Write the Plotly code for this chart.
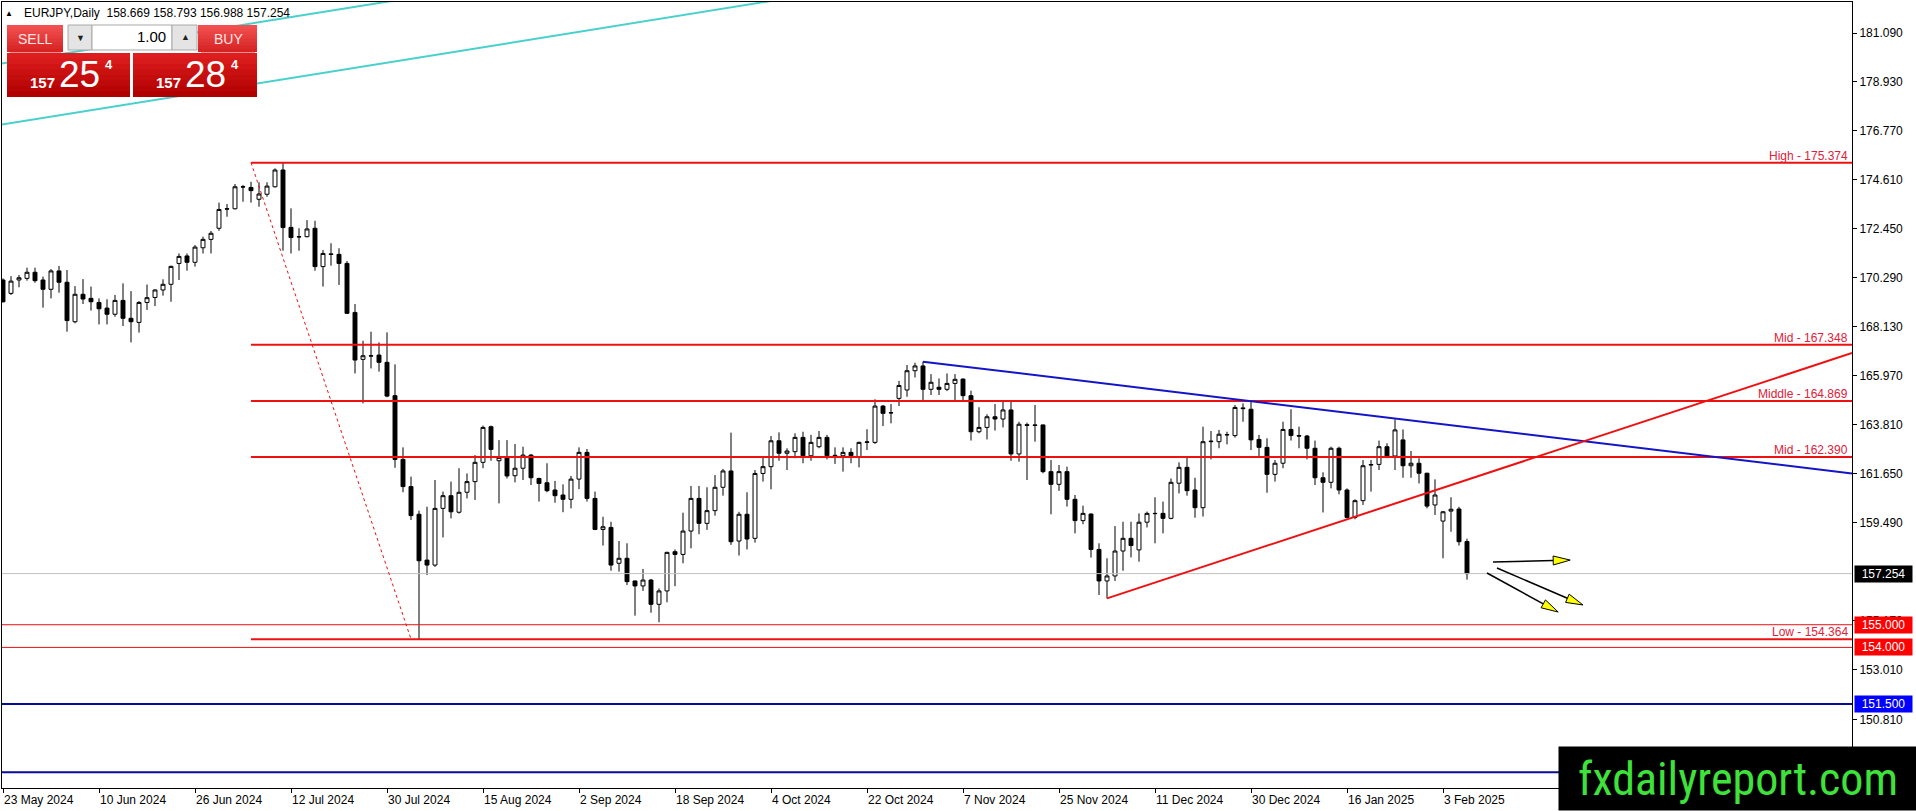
import math
import plotly.graph_objects as go

# ---- data (daily EURJPY, bar index 0 = 23 May 2024) ----
symbol = "EURJPY,Daily"
tick_dates = ["23 May 2024", "10 Jun 2024", "26 Jun 2024", "12 Jul 2024", "30 Jul 2024",
              "15 Aug 2024", "2 Sep 2024", "18 Sep 2024", "4 Oct 2024", "22 Oct 2024",
              "7 Nov 2024", "25 Nov 2024", "11 Dec 2024", "30 Dec 2024", "16 Jan 2025",
              "3 Feb 2025"]
tick_step = 12

opens = [170.20, 169.61, 170.20, 170.27, 170.54, 170.20, 169.79, 170.60, 170.10, 168.36,
         169.57, 169.39, 169.21, 168.96, 168.69, 169.30, 168.51, 168.33, 169.21, 169.43,
         169.76, 170.01, 170.93, 171.26, 170.98, 171.62, 171.99, 172.48, 173.34, 173.34,
         174.31, 174.28, 173.76, 173.98, 174.31, 175.05, 172.52, 172.11, 172.11, 172.48,
         170.79, 171.35, 171.33, 170.93, 168.77, 166.70, 166.86, 166.89, 166.57, 165.10,
         162.29, 161.09, 159.87, 157.85, 157.63, 160.13, 160.69, 159.96, 160.84, 161.31,
         162.16, 163.73, 162.23, 162.38, 161.57, 161.90, 162.48, 161.45, 161.26, 160.94,
         160.72, 160.53, 161.42, 162.60, 160.57, 159.20, 159.29, 157.71, 157.93, 156.93,
         156.71, 156.97, 155.90, 156.49, 158.22, 158.10, 159.13, 160.57, 159.47, 160.03,
         161.06, 161.78, 158.69, 159.87, 158.81, 161.67, 161.97, 163.11, 162.56, 162.63,
         163.26, 162.45, 162.85, 163.26, 162.47, 162.45, 162.60, 162.41, 163.04, 163.04,
         164.64, 164.35, 164.98, 165.35, 166.20, 166.41, 165.38, 165.47, 165.38, 165.64,
         165.83, 165.10, 163.51, 163.70, 164.17, 164.07, 164.47, 162.53, 163.82, 163.81,
         163.81, 161.75, 161.19, 161.75, 160.53, 159.59, 159.88, 158.32, 156.93, 157.15,
         158.25, 158.81, 158.30, 159.52, 159.91, 159.91, 159.69, 161.24, 161.94, 160.94,
         160.16, 163.07, 163.07, 163.37, 163.34, 164.56, 164.50, 163.17, 162.82, 161.63,
         162.12, 163.61, 163.34, 163.32, 162.78, 161.48, 161.28, 162.78, 160.94, 159.73,
         160.47, 162.04, 162.07, 162.85, 162.44, 163.15, 162.01, 162.12, 161.68, 160.28,
         159.57, 160.01, 160.10, 158.669]
highs = [170.27, 170.37, 170.42, 170.74, 170.74, 170.35, 170.68, 170.82, 170.64, 169.93,
         170.24, 169.91, 169.39, 169.35, 169.54, 170.05, 169.71, 169.27, 170.00, 169.79,
         170.23, 170.83, 171.37, 171.37, 171.74, 172.11, 172.36, 173.61, 173.55, 174.43,
         174.39, 174.53, 174.51, 174.51, 175.12, 175.374, 173.36, 172.48, 172.84, 172.81,
         171.52, 171.82, 171.60, 171.04, 169.14, 167.52, 167.92, 167.45, 167.89, 166.48,
         162.82, 161.53, 160.03, 160.20, 161.38, 160.87, 161.31, 161.90, 161.67, 162.48,
         163.78, 163.78, 163.14, 163.14, 162.97, 162.85, 162.53, 161.48, 162.12, 161.34,
         161.19, 161.56, 162.82, 162.75, 160.87, 159.76, 159.54, 158.69, 158.59, 156.94,
         157.46, 157.02, 156.60, 158.22, 158.32, 159.94, 161.12, 161.12, 161.06, 161.60,
         161.87, 163.47, 159.98, 160.84, 161.82, 162.37, 163.32, 163.48, 162.78, 163.44,
         163.51, 163.37, 163.54, 163.37, 162.82, 162.82, 162.78, 163.07, 163.62, 164.94,
         164.69, 164.73, 165.75, 166.45, 166.55, 166.60, 166.05, 165.86, 166.08, 166.05,
         165.86, 165.32, 164.59, 164.28, 164.73, 164.91, 164.91, 163.95, 163.91, 164.69,
         163.82, 162.26, 162.04, 161.97, 160.72, 160.25, 159.91, 158.59, 157.93, 159.35,
         159.54, 159.54, 159.91, 159.99, 160.62, 160.43, 161.45, 162.16, 162.38, 161.48,
         163.73, 163.54, 163.59, 163.51, 164.69, 164.76, 164.83, 163.37, 163.22, 162.26,
         163.95, 164.50, 163.73, 163.37, 163.12, 161.72, 162.85, 162.85, 161.01, 160.53,
         162.26, 162.26, 163.12, 163.00, 164.06, 163.61, 162.66, 162.34, 161.70, 161.41,
         160.01, 160.62, 160.20, 158.793]
lows = [169.20, 169.54, 169.88, 170.17, 170.08, 168.98, 169.39, 169.64, 167.92, 168.29,
        169.14, 168.85, 168.24, 168.24, 168.58, 168.17, 167.45, 167.88, 168.88, 169.05,
        169.51, 169.24, 170.20, 170.61, 170.79, 171.37, 171.37, 172.37, 172.99, 173.31,
        173.65, 173.61, 173.43, 173.87, 174.28, 171.49, 171.37, 171.49, 172.08, 170.61,
        169.91, 170.83, 169.98, 168.70, 166.08, 164.76, 166.30, 166.16, 165.03, 161.92,
        160.84, 159.62, 154.364, 157.19, 157.55, 158.85, 159.69, 159.90, 160.57, 160.50,
        161.90, 162.23, 160.35, 161.45, 161.28, 161.38, 161.16, 160.43, 160.84, 160.38,
        159.96, 160.13, 160.98, 160.43, 159.17, 158.49, 157.38, 157.34, 156.75, 155.40,
        156.49, 155.53, 155.11, 155.99, 156.70, 157.71, 158.37, 158.99, 159.18, 159.81,
        160.69, 158.52, 158.05, 158.32, 158.62, 161.31, 160.97, 162.23, 161.82, 162.34,
        162.12, 162.23, 162.78, 162.29, 162.09, 161.75, 162.12, 161.94, 162.70, 162.97,
        163.76, 163.88, 164.64, 165.05, 165.90, 164.91, 165.13, 165.13, 165.30, 164.91,
        164.91, 163.12, 163.44, 163.17, 163.56, 163.70, 162.23, 162.19, 161.38, 163.07,
        161.68, 159.87, 160.90, 160.21, 159.03, 159.43, 157.96, 156.31, 156.16, 156.93,
        157.38, 157.97, 157.78, 159.29, 158.59, 159.03, 159.65, 160.79, 160.69, 159.72,
        159.77, 162.29, 162.78, 162.95, 163.25, 163.95, 162.70, 162.44, 160.82, 161.31,
        161.90, 163.12, 162.78, 162.29, 161.16, 159.95, 161.01, 160.75, 159.69, 159.65,
        160.28, 160.87, 161.82, 162.34, 161.82, 161.48, 161.48, 161.23, 160.13, 159.84,
        157.93, 159.10, 158.49, 156.988]
closes = [169.24, 170.15, 170.30, 170.54, 170.17, 169.79, 170.60, 170.10, 168.41, 169.57,
          169.36, 169.24, 168.93, 168.69, 169.30, 168.51, 168.36, 169.21, 169.42, 169.76,
          170.01, 170.80, 171.24, 170.98, 171.65, 171.99, 172.26, 173.31, 173.33, 174.31,
          174.30, 174.14, 173.99, 174.34, 175.05, 172.51, 172.07, 172.10, 172.45, 170.79,
          171.37, 171.33, 170.93, 168.73, 166.67, 166.86, 166.85, 166.57, 165.08, 162.29,
          161.09, 159.81, 157.82, 157.63, 160.13, 160.69, 159.98, 160.84, 161.31, 162.16,
          163.70, 162.73, 162.38, 161.56, 161.90, 162.48, 161.48, 161.23, 160.91, 160.69,
          160.53, 161.42, 162.60, 160.57, 159.20, 159.32, 157.63, 157.93, 156.90, 156.71,
          156.97, 155.90, 156.49, 158.19, 158.10, 159.13, 160.57, 159.47, 160.03, 161.06,
          161.78, 158.66, 159.87, 158.78, 161.67, 161.97, 163.11, 162.56, 162.66, 163.26,
          162.45, 163.04, 163.26, 162.45, 162.45, 162.60, 162.45, 163.04, 163.06, 164.64,
          164.32, 164.34, 165.55, 166.20, 166.41, 165.38, 165.69, 165.38, 165.64, 165.82,
          165.10, 163.51, 163.70, 164.17, 164.07, 164.47, 162.53, 163.84, 163.79, 163.79,
          161.75, 161.19, 161.75, 160.53, 159.59, 159.91, 158.32, 156.93, 157.15, 158.25,
          158.81, 158.49, 159.52, 159.91, 159.90, 159.69, 161.28, 161.94, 160.91, 160.16,
          163.07, 163.09, 163.40, 163.38, 164.58, 164.53, 163.15, 162.82, 161.63, 162.12,
          163.61, 163.34, 163.32, 162.78, 161.48, 161.28, 162.78, 160.94, 159.73, 160.47,
          162.01, 162.06, 162.85, 162.44, 163.59, 162.01, 162.12, 161.68, 160.23, 160.72,
          159.98, 160.09, 158.66, 157.254]

price_ticks = [181.09, 178.93, 176.77, 174.61, 172.45, 170.29, 168.13, 165.97, 163.81,
               161.65, 159.49, 155.17, 153.01, 150.81]

fib_names = ["High", "Mid", "Middle", "Mid", "Low"]
fib_prices = [175.374, 167.348, 164.869, 162.390, 154.364]
fib_from = 31
fib_diag = [(31, 175.374), (51, 154.364)]

red_levels = [155.000, 154.000]
blue_levels = [151.500, 148.500]
blue_labelled = [151.500]
bid = 157.254
ask = 157.284
lot = "1.00"

blue_trend = [(115, 166.60), (231.125, 161.67)]
red_trend = [(138, 156.16), (231.125, 166.98)]
cyan_lower = [(-0.5, 177.03), (100, 182.73)]
cyan_upper = [(-0.5, 179.72), (60, 183.15)]

arrows = [((186.25, 157.77), (195.9, 157.85)),
          ((186.75, 157.50), (197.5, 155.87)),
          ((185.5, 157.28), (194.4, 155.56))]

# ---- geometry of the window ----
W, H = 1916, 811
PL, PR, PT, PB = 2, 1852, 2, 788
X_RANGE = [-0.125, 231.125]
Y_RANGE = [147.801, 182.457]
XS = (PR - PL) / (X_RANGE[1] - X_RANGE[0])
YS = (PB - PT) / (Y_RANGE[1] - Y_RANGE[0])


def px(x):
    return (x - PL) / (PR - PL)


def py(y):
    return (PB - y) / (PB - PT)


FONT = "Liberation Sans, Arial, sans-serif"
RED = "#ee1111"

fig = go.Figure()
fig.add_trace(go.Candlestick(
    x=list(range(len(opens))),
    open=opens, high=highs, low=lows, close=closes,
    increasing=dict(line=dict(color="black", width=1), fillcolor="white"),
    decreasing=dict(line=dict(color="black", width=1), fillcolor="black"),
    whiskerwidth=0,
    hoverinfo="skip",
))

shapes = []
annotations = []


def hline(y, x0, x1, color, width, dash="solid"):
    shapes.append(dict(type="line", xref="x", yref="y", x0=x0, x1=x1, y0=y, y1=y,
                       line=dict(color=color, width=width, dash=dash)))


# channel lines top-left
for pts in (cyan_lower, cyan_upper):
    shapes.append(dict(type="line", xref="x", yref="y", x0=pts[0][0], y0=pts[0][1],
                       x1=pts[1][0], y1=pts[1][1], line=dict(color="#48d1cc", width=2)))

hline(bid, X_RANGE[0], X_RANGE[1], "#c0c0c0", 1)
for lv in red_levels:
    hline(lv, X_RANGE[0], X_RANGE[1], RED, 1)
for lv in blue_levels:
    hline(lv, X_RANGE[0], X_RANGE[1], "#0a0a9a", 2)

# fibo-like levels
for name, p in zip(fib_names, fib_prices):
    hline(p, fib_from, X_RANGE[1], RED, 2)
    annotations.append(dict(xref="paper", x=1, xanchor="right", xshift=-2,
                            yref="y", y=p, yanchor="bottom", yshift=-2,
                            text=f"{name} - {p:.3f}", showarrow=False,
                            font=dict(family=FONT, size=12, color="#e0203a")))
shapes.append(dict(type="line", xref="x", yref="y", x0=fib_diag[0][0], y0=fib_diag[0][1],
                   x1=fib_diag[1][0], y1=fib_diag[1][1],
                   line=dict(color=RED, width=1, dash="dot")))

# trend lines
shapes.append(dict(type="line", xref="x", yref="y", x0=blue_trend[0][0], y0=blue_trend[0][1],
                   x1=blue_trend[1][0], y1=blue_trend[1][1], line=dict(color="#1414c8", width=2)))
shapes.append(dict(type="line", xref="x", yref="y", x0=red_trend[0][0], y0=red_trend[0][1],
                   x1=red_trend[1][0], y1=red_trend[1][1], line=dict(color=RED, width=2)))

# arrows: black shaft + yellow head
for (x0, y0), (x1, y1) in arrows:
    dx, dy = (x1 - x0) * XS, (y1 - y0) * YS
    ln = math.hypot(dx, dy)
    ux, uy = dx / ln, dy / ln
    hl, hw = 17, 4.5
    bx, by = -ux * hl, -uy * hl
    pts = [(0, 0), (bx - uy * hw, by + ux * hw), (bx + uy * hw, by - ux * hw)]
    pts = [(x1 + a / XS, y1 + b / YS) for a, b in pts]
    shapes.append(dict(type="line", xref="x", yref="y", x0=x0, y0=y0,
                       x1=x1 + bx / XS, y1=y1 + by / YS, line=dict(color="black", width=1.5)))
    path = "M {} {} L {} {} L {} {} Z".format(*[v for p in pts for v in p])
    shapes.append(dict(type="path", xref="x", yref="y", path=path,
                       fillcolor="#ffff00", line=dict(color="black", width=1)))


# trade panel (pixel boxes)
def box(x0, y0, x1, y1, fill, line=None, layer="above"):
    shapes.append(dict(type="rect", xref="paper", yref="paper", x0=px(x0), x1=px(x1),
                       y0=py(y1), y1=py(y0), fillcolor=fill, layer=layer,
                       line=dict(color=line or fill, width=1 if line else 0)))


def grad(x0, y0, x1, y1, c0, c1, n=8):
    step = (y1 - y0) / n
    for k in range(n):
        t = k / (n - 1)
        c = tuple(round(a + (b - a) * t) for a, b in zip(c0, c1))
        top = y0 + step * k
        bottom = y1 if k == n - 1 else top + step + 1.5
        box(x0, top, x1, bottom, "rgb({},{},{})".format(*c))


def text(x, y, s, size, color, xanchor="center", bold=False, family=FONT):
    annotations.append(dict(xref="paper", yref="paper", x=px(x), y=py(y), xanchor=xanchor,
                            yanchor="middle", showarrow=False,
                            text=f"<b>{s}</b>" if bold else s,
                            font=dict(family=family, size=size, color=color)))


grad(7, 25, 63, 52, (242, 80, 80), (214, 36, 36))
grad(198, 25, 257, 52, (242, 80, 80), (214, 36, 36))
grad(7, 53, 130, 97, (222, 30, 30), (176, 0, 0))
grad(133, 53, 257, 97, (222, 30, 30), (176, 0, 0))
box(10, 52, 61, 53, "#f29090")
box(201, 52, 255, 53, "#f29090")
box(68, 25, 92, 50, "#e4e4e4", "#a8a8a8")
box(92, 25, 172, 50, "white", "#a8a8a8")
box(172, 25, 197, 50, "#e4e4e4", "#a8a8a8")
text(35, 39, "SELL", 14, "#ffe4e4")
text(228, 39, "BUY", 14, "#ffe4e4")
text(80, 38, "▼", 9, "#202020")
text(185, 37, "▲", 9, "#202020")
text(168, 37, lot, 15, "black", xanchor="right")

for x_left, price in ((7, bid), (133, ask)):
    s = f"{price:.3f}"
    big, small, pip = s[:3], s[4:6], s[6]
    text(x_left + 35, 82, big, 15, "white", bold=True)
    text(x_left + 72, 74, small, 37, "white")
    text(x_left + 102, 65, pip, 13, "white", bold=True)

text(9, 13, "▲", 8, "black")
text(22, 13, f"{symbol}  {opens[-1]:.3f} {highs[-1]:.3f} {lows[-1]:.3f} {closes[-1]:.3f}",
     12, "black", xanchor="left")

# right-axis price boxes
for p, bg in [(bid, "black")] + [(lv, "#ff0000") for lv in red_levels] + \
             [(lv, "#0000ff") for lv in blue_labelled]:
    annotations.append(dict(xref="paper", x=1, xanchor="left", xshift=2,
                            yref="y", y=p, yanchor="middle", text=f"{p:.3f}",
                            showarrow=False, bgcolor=bg, borderpad=1, width=55,
                            font=dict(family=FONT, size=12, color="white")))

# date labels, left aligned on the tick as in MT4
for k, d in enumerate(tick_dates):
    annotations.append(dict(xref="x", x=k * tick_step, xanchor="left", xshift=-1,
                            yref="paper", y=0, yanchor="top", yshift=-3,
                            text=d, showarrow=False,
                            font=dict(family=FONT, size=12, color="black")))

# watermark
annotations.append(dict(xref="paper", x=px(1558), xanchor="left",
                        yref="paper", y=py(811), yanchor="bottom",
                        text="fxdailyreport.com", showarrow=False,
                        bgcolor="black", borderpad=0, width=358, height=63,
                        font=dict(family="Liberation Sans Narrow, Roboto Condensed, Liberation Sans",
                                  size=46, color="#3ee23a")))

fig.update_layout(
    width=W, height=H,
    margin=dict(l=PL, r=W - PR, t=PT, b=H - PB),
    plot_bgcolor="white", paper_bgcolor="white",
    showlegend=False,
    shapes=shapes, annotations=annotations,
    font=dict(family=FONT, size=12, color="black"),
)
fig.update_xaxes(
    range=X_RANGE, tickvals=[k * tick_step for k in range(len(tick_dates))],
    ticktext=[""] * len(tick_dates), ticks="outside", ticklen=4, tickcolor="black",
    showline=True, linecolor="black", linewidth=1, mirror=True,
    showgrid=False, zeroline=False, rangeslider_visible=False, fixedrange=True,
)
fig.update_yaxes(
    range=Y_RANGE, side="right", tickvals=price_ticks,
    ticktext=[f"{t:.3f}" for t in price_ticks], ticks="outside", ticklen=4,
    tickcolor="black", tickfont=dict(family=FONT, size=12, color="black"),
    showline=True, linecolor="black", linewidth=1, mirror=True,
    showgrid=False, zeroline=False, fixedrange=True,
)

fig.write_html("out.html", config=dict(displayModeBar=False),
               post_script="document.body.style.margin='0';document.body.style.overflow='hidden';")
